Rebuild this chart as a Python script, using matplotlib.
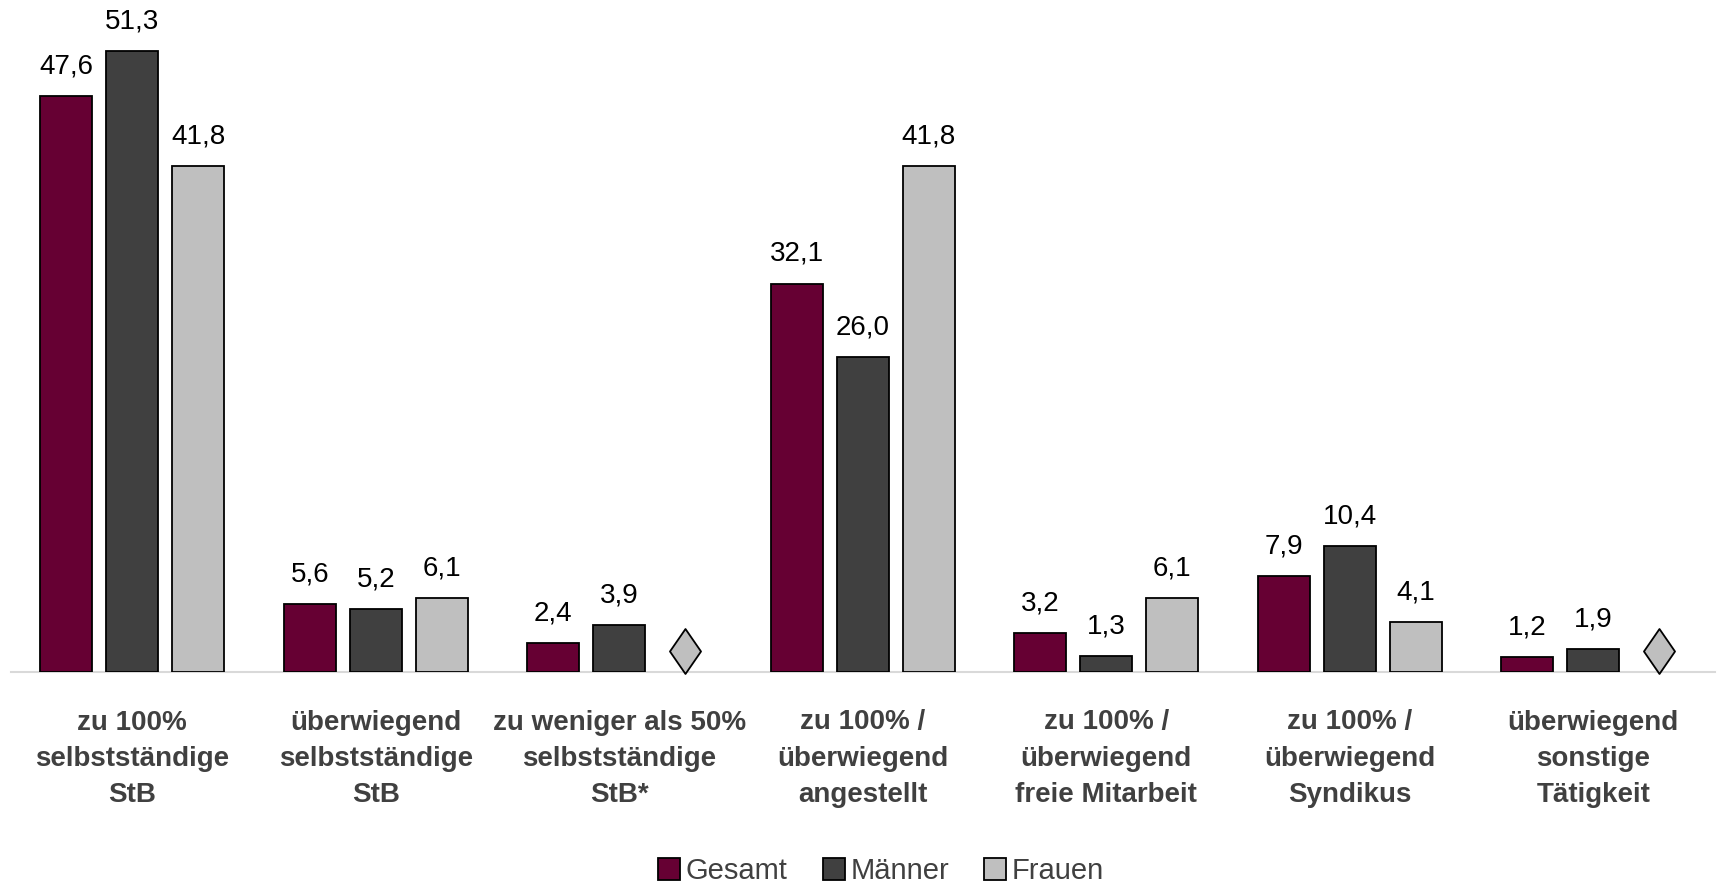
import matplotlib
matplotlib.use("Agg")
import matplotlib.pyplot as plt
import numpy as np
from matplotlib import font_manager
from matplotlib.patches import Patch
from matplotlib.path import Path
import matplotlib.transforms as mtransforms

categories = ["zu 100%\nselbstständige\nStB", "überwiegend\nselbstständige\nStB",
              "zu weniger als 50%\nselbstständige\nStB*", "zu 100% /\nüberwiegend\nangestellt",
              "zu 100% /\nüberwiegend\nfreie Mitarbeit", "zu 100% /\nüberwiegend\nSyndikus",
              "überwiegend\nsonstige\nTätigkeit"]
series_names = ["Gesamt", "Männer", "Frauen"]
gesamt = [47.6, 5.6, 2.4, 32.1, 3.2, 7.9, 1.2]
maenner = [51.3, 5.2, 3.9, 26.0, 1.3, 10.4, 1.9]
frauen = [41.8, 6.1, None, 41.8, 6.1, 4.1, None]  # None = suppressed (diamond)

colors = ["#660033", "#404040", "#bfbfbf"]

avail = {f.name for f in font_manager.fontManager.ttflist}
fam = [f for f in ["Liberation Sans Narrow", "Liberation Sans", "DejaVu Sans"] if f in avail]
plt.rcParams['font.family'] = fam

W, H = 1721, 886
fig = plt.figure(figsize=(W/100, H/100), dpi=100)
left_px, right_px, base_px, top_px = 10.5, 1715, 672, 6.5
ax = fig.add_axes([left_px/W, 1-base_px/H, (right_px-left_px)/W, (base_px-top_px)/H])
ax.set_xlim(-0.5, 6.5)
ax.set_ylim(0, 55)

diamond = Path([(0, -1), (0.69, 0), (0, 1), (-0.69, 0), (0, -1)],
               [Path.MOVETO, Path.LINETO, Path.LINETO, Path.LINETO, Path.CLOSEPOLY])
dsize_px = 45

x = np.arange(len(categories))
offsets = [-0.271, 0.0, 0.271]
width = 0.2135
for si, (vals, col) in enumerate(zip([gesamt, maenner, frauen], colors)):
    for i, v in enumerate(vals):
        xi = x[i] + offsets[si]
        if v is None:
            # diamond marker sitting on the baseline
            trans = ax.transData + mtransforms.ScaledTranslation(0, (dsize_px/2 - 1)/100,
                                                                 fig.dpi_scale_trans)
            ax.plot([xi], [0], marker=diamond, markersize=dsize_px*0.72, markerfacecolor=col,
                    markeredgecolor='black', markeredgewidth=1.3, transform=trans,
                    clip_on=False, zorder=3)
            continue
        ax.bar(xi, v, width=width, color=col, edgecolor='black', linewidth=1.3, zorder=2)
        ax.annotate(f"{v:.1f}".replace('.', ','), (xi, v), xytext=(0, 12),
                    textcoords='offset points', ha='center', va='bottom',
                    fontsize=20, color='black')

for s in ['top', 'right', 'left']:
    ax.spines[s].set_visible(False)
ax.spines['bottom'].set_color('#d9d9d9')
ax.spines['bottom'].set_linewidth(1.5)
ax.spines['bottom'].set_zorder(1)
ax.set_yticks([])
ax.set_xticks(x)
ax.set_xticklabels(categories, fontsize=20, fontweight='bold', color='#404040',
                   linespacing=1.52)
ax.tick_params(axis='x', length=0, pad=27)

handles = [Patch(facecolor=c, edgecolor='black', linewidth=1.3) for c in colors]
fig.legend(handles, series_names, loc='center', bbox_to_anchor=(0.512, 1-871/H),
           ncol=3, frameon=False, fontsize=21, labelcolor='#404040',
           handlelength=0.75, handleheight=0.75, handletextpad=0.2, columnspacing=1.2)

fig.savefig("out.png", dpi=100)
